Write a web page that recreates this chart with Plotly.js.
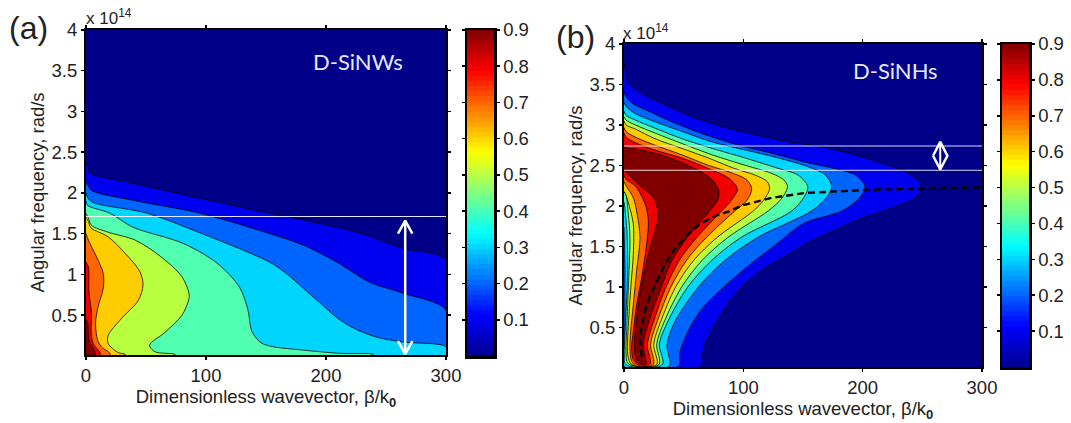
<!DOCTYPE html>
<html><head><meta charset="utf-8">
<script src="https://cdn.plot.ly/plotly-3.0.1.min.js"></script>
<style>html,body{margin:0;padding:0;background:#fff}#c{width:1071px;height:423px}</style>
</head><body><div id="c"></div>
<script>
const bandColors = ['#0000f0','#0064ff','#00d5ff','#50ffb0','#b8ff40','#ffcc00','#ff6600','#f00000','#800000'];
const navy = '#000088';

// Panel (a) D-SiNWs: contour outlines, levels 0.1 ... 0.9 (beta/k0, omega in 1e14 rad/s)
const nwBeta = [
 [0,1,3.3,39,100,153,174,228,264,300],
 [0,1.1,4.7,39,95,153,181,209,237,264,300],
 [0,1.1,4.7,51,95,153,167,181,195,209,223,242,264,300],
 [0,1.1,20,39,81,109,128,135,138,145,153,181,212,239],
 [0,2,4.7,18,41,63,80,86,85,80,66,53,57.5,74],
 [0,2,4.2,18.5,32.5,45,47.5,43.6,29.7,18.5,18.5,26.8,32.5],
 [0,2,8.9,14.4,14.4,10,8,9.7,13,20],
 [0,2,2.5,4.7,4.2,6,11.7],
 [0,1.4,2.5,7.5]
];
const nwFreq = [
 [2.38,2.34,2.25,2.12,1.92,1.75,1.69,1.51,1.32,1.17],
 [2.15,2.11,2.03,1.91,1.75,1.50,1.36,1.15,0.90,0.77,0.56],
 [2.0,1.95,1.89,1.75,1.51,1.15,1.01,0.83,0.65,0.47,0.34,0.23,0.17,0.11],
 [1.9,1.85,1.75,1.58,1.38,1.14,0.84,0.56,0.31,0.17,0.12,0.07,0.03,0.02],
 [1.75,1.69,1.60,1.52,1.42,1.21,0.97,0.75,0.66,0.50,0.29,0.13,0.05,0.02],
 [1.7,1.65,1.57,1.46,1.26,1.03,0.87,0.68,0.46,0.25,0.15,0.04,0.02],
 [1.5,1.42,1.21,1.01,0.83,0.60,0.40,0.19,0.11,0.03],
 [1.15,1.09,0.77,0.52,0.31,0.15,0.04],
 [0.45,0.40,0.19,0.05]
];

// Panel (b) D-SiNHs: contour outlines, levels 0.1 ... 0.9
const nhBeta = [
 [0,1.7,3.9,15.1,31.8,54.2,82.1,110,138,166,194,222,238.5,247,249,245,218,198,175,156,133,111,91,78,69,65,64,0],
 [0,1.7,6.7,20.7,43,68,96,124,152,177,194,202,198,183,150,128,106,83,66,55,47,45.5,0],
 [0,1.7,9.5,26,48.6,74,102,130,155,169,174,170,157.5,112,84,62,43,36,37.7,0,0.8,0.8,0.8,0],
 [0,1.7,9.5,26,48.6,74,102,130,146,154,151,140.8,98,73,53,37,29.6,32.1,1.4,0.3,0.8,1.7,2.8,3.1,2.2,0.3,0],
 [0,1.7,9.5,26,48.6,74,102,124,134,137,132,121,87,65,48,34,27.4,29.3,3.6,1.7,2.2,3.1,4.2,5,3.6,1.4,0],
 [0,1.7,9.5,26,48.6,71,93,110,120,122,117,108.6,78,58,43,31,24.9,27.4,6.4,3.1,3.1,4.2,5.9,7.8,7.8,5.3,1.7,0],
 [0,1.7,9.5,26,48.6,71,90,103,107,103,93,69,52,39,28,22.3,24.6,10.6,6.4,5,5.6,7.8,10.6,13.4,11,7.8,1.7,0],
 [0,1.7,9.5,26,48.6,71,88,95,90,82,61,46,35,25,19.6,21.8,13.4,7.8,6.4,7.8,10.6,14.8,19,20.4,17.6,9.2,2.2,0],
 [0,1.7,15,35,54,71,79,79,72,53,40,31,21,16.2,18.2,12,9.8,8.7,10.6,14.8,20.4,26,28.8,24.6,15,1.7,0]
];
const nhFreq = [
 [3.75,3.64,3.52,3.39,3.27,3.12,2.98,2.88,2.79,2.73,2.63,2.50,2.40,2.30,2.22,2.11,1.94,1.84,1.69,1.56,1.36,1.16,0.87,0.58,0.33,0.12,0.02,0.02],
 [3.4,3.35,3.27,3.17,3.02,2.88,2.75,2.65,2.54,2.46,2.38,2.24,2.11,1.94,1.78,1.53,1.28,0.99,0.74,0.49,0.20,0.02,0.02],
 [3.28,3.23,3.14,3.04,2.92,2.79,2.69,2.59,2.48,2.38,2.24,2.11,1.94,1.61,1.32,0.99,0.58,0.29,0.02,0.02,0.37,0.87,1.28,1.74],
 [3.17,3.12,3.06,2.96,2.83,2.71,2.59,2.46,2.38,2.24,2.11,1.94,1.61,1.32,0.99,0.58,0.29,0.04,0.04,0.16,0.41,0.70,1.03,1.40,1.74,2.03,2.05],
 [3.1,3.06,3.0,2.90,2.77,2.63,2.50,2.40,2.32,2.24,2.09,1.94,1.61,1.32,0.99,0.58,0.29,0.04,0.05,0.20,0.45,0.78,1.20,1.61,1.90,2.15,2.17],
 [3.05,3.0,2.95,2.83,2.71,2.59,2.46,2.38,2.30,2.21,2.07,1.94,1.61,1.32,0.99,0.58,0.29,0.04,0.04,0.16,0.37,0.66,1.03,1.40,1.78,1.95,2.13,2.18],
 [2.97,2.92,2.85,2.75,2.63,2.50,2.41,2.32,2.21,2.07,1.94,1.61,1.32,0.99,0.58,0.29,0.04,0.02,0.08,0.25,0.45,0.78,1.20,1.61,1.90,2.10,2.25,2.3],
 [2.9,2.85,2.78,2.69,2.59,2.46,2.34,2.21,2.07,1.94,1.61,1.32,0.99,0.58,0.29,0.04,0.02,0.10,0.25,0.45,0.78,1.11,1.53,1.82,2.03,2.25,2.32,2.38],
 [2.74,2.72,2.69,2.61,2.50,2.36,2.21,2.09,1.94,1.61,1.32,0.99,0.58,0.29,0.04,0.06,0.12,0.29,0.62,1.03,1.40,1.69,1.90,2.11,2.23,2.42,2.45]
];
const dashBeta = [14.8,13.4,14.8,17.6,21.8,27.4,34.4,42.7,51,62.3,73.5,87.4,100,124,152,180,208,247,276,299];
const dashFreq = [0.14,0.33,0.49,0.70,0.89,1.07,1.28,1.47,1.61,1.76,1.86,1.93,2.01,2.10,2.16,2.18,2.20,2.21,2.22,2.23];

const rangeBeta = [0,300];
const rangeFreq = [0.01,4];
const markerA = 1.71;
const markersB = [2.74,2.44];

const arrowABeta = [266,266], arrowAFreq = [0.02,1.66];
const arrowAHeadTopB = [260,266,272], arrowAHeadTopF = [1.50,1.66,1.50];
const arrowAHeadBotB = [260,266,272], arrowAHeadBotF = [0.18,0.02,0.18];
const arrowBBeta = [265,265], arrowBFreq = [2.45,2.79];
const arrowBDiaB = [259,265,271,265,259], arrowBDiaF = [2.62,2.79,2.62,2.45,2.62];

const xTicks = [0,100,200,300];
const yTicks = [0.5,1,1.5,2,2.5,3,3.5,4];
const yTickText = ['0.5','1','1.5','2','2.5','3','3.5','4'];
const cbTicks = [0.1,0.2,0.3,0.4,0.5,0.6,0.7,0.8,0.9];
const cbSteps = [0.007,0.021,0.035,0.049,0.063,0.077,0.091,0.105,0.120,0.134,0.148,0.162,0.176,0.190,0.204,0.218,0.232,0.246,0.260,0.274,0.288,0.302,0.316,0.330,0.345,0.359,0.373,0.387,0.401,0.415,0.429,0.443,0.457,0.471,0.485,0.499,0.513,0.527,0.541,0.555,0.570,0.584,0.598,0.612,0.626,0.640,0.654,0.668,0.682,0.696,0.710,0.724,0.738,0.752,0.766,0.780,0.795,0.809,0.823,0.837,0.851,0.865,0.879,0.893];
const jet = [[0,'#00008f'],[0.125,'#0000ff'],[0.375,'#00ffff'],[0.625,'#ffff00'],[0.875,'#ff0000'],[1,'#800000']];

const W=1071,H=423;
const fx=(a,b)=>[a/W,b/W], fy=(t,b)=>[1-b/H,1-t/H];
const traces=[];
const contourLine={color:'rgba(0,0,0,0.85)',width:0.9,shape:'spline',smoothing:0.9};

function band(xs,ys,i,xa,ya){
  traces.push({type:'scatter',mode:'lines',x:xs,y:ys,xaxis:xa,yaxis:ya,fill:'toself',fillcolor:bandColors[i],line:contourLine,hoverinfo:'skip',showlegend:false});
}
nwBeta.forEach((b,i)=>{
  const last=b[b.length-1];
  band(b.concat([last,0]),nwFreq[i].concat([rangeFreq[0],rangeFreq[0]]),i,'x','y');
});
nhBeta.forEach((b,i)=>band(b,nhFreq[i],i,'x2','y2'));

function plain(xs,ys,xa,ya,color,width,dash){
  traces.push({type:'scatter',mode:'lines',x:xs,y:ys,xaxis:xa,yaxis:ya,line:{color:color,width:width,dash:dash||'solid'},hoverinfo:'skip',showlegend:false});
}
plain(rangeBeta,[markerA,markerA],'x','y','rgba(255,255,255,0.9)',1);
plain(arrowABeta,arrowAFreq,'x','y','#fff',2.5);
plain(arrowAHeadTopB,arrowAHeadTopF,'x','y','#fff',2.5);
plain(arrowAHeadBotB,arrowAHeadBotF,'x','y','#fff',2.5);

markersB.forEach(m=>plain(rangeBeta,[m,m],'x2','y2','rgba(255,255,255,0.85)',1));
plain(dashBeta,dashFreq,'x2','y2','#000',2.4,'7px,4px');
plain(arrowBBeta,arrowBFreq,'x2','y2','#fff',2);
plain(arrowBDiaB,arrowBDiaF,'x2','y2','#fff',2.5);

[['x3','y3'],['x4','y4']].forEach(a=>{
  traces.push({type:'heatmap',x:[0],y:cbSteps,z:cbSteps.map(v=>[v]),xaxis:a[0],yaxis:a[1],colorscale:jet,zmin:0,zmax:0.9,showscale:false,hoverinfo:'skip'});
});

const tfont={family:'"Liberation Sans",Arial,sans-serif',size:18.5,color:'#222'};
const tifont={family:'"Liberation Sans",Arial,sans-serif',size:18.5,color:'#222'};
function xax(dom,anchor,text){return {domain:dom,anchor:anchor,range:rangeBeta,tickmode:'array',tickvals:xTicks,ticktext:xTicks.map(String),ticks:'outside',ticklen:3,tickwidth:1.5,tickcolor:'#000',mirror:'ticks',showline:true,linewidth:2,linecolor:'#000',showgrid:false,zeroline:false,tickfont:tfont,title:{text:text,font:tifont,standoff:0}};}
function yax(dom,anchor,text){return {domain:dom,anchor:anchor,range:rangeFreq,tickmode:'array',tickvals:yTicks,ticktext:yTickText,ticks:'outside',ticklen:3,tickwidth:1.5,tickcolor:'#000',mirror:'ticks',showline:true,linewidth:2,linecolor:'#000',showgrid:false,zeroline:false,tickfont:tfont,title:{text:text,font:tifont,standoff:2}};}
function cbx(dom,anchor){return {domain:dom,anchor:anchor,range:[-0.5,0.5],showticklabels:false,ticks:'',mirror:true,showline:true,linewidth:2.5,linecolor:'#000',showgrid:false,zeroline:false};}
function cby(dom,anchor){return {domain:dom,anchor:anchor,side:'right',range:[0,0.9],tickmode:'array',tickvals:cbTicks,ticktext:cbTicks.map(v=>v.toFixed(1)),ticks:'outside',ticklen:3,tickwidth:1.5,tickcolor:'#000',mirror:'ticks',showline:true,linewidth:2.5,linecolor:'#000',showgrid:false,zeroline:false,tickfont:tfont};}

const xt='Dimensionless wavevector, β/k<sub><b>0</b></sub>';
const yt='Angular frequency, rad/s';
function note(px,py,text,size,color,family,anchor){
  return {xref:'paper',yref:'paper',x:px/W,y:1-py/H,text:text,showarrow:false,xanchor:anchor||'left',yanchor:'middle',font:{family:family||'"Liberation Sans",Arial,sans-serif',size:size,color:color||'#222'}};
}
const layout={
  width:W,height:H,margin:{l:0,r:0,t:0,b:0,pad:0},paper_bgcolor:'#fff',plot_bgcolor:navy,showlegend:false,
  xaxis:xax(fx(86,446),'y',xt),
  yaxis:yax(fy(30,355),'x',yt),
  xaxis2:xax(fx(624,982),'y2',xt),
  yaxis2:yax(fy(44,367),'x2',yt),
  xaxis3:cbx(fx(467,494),'y3'),
  yaxis3:cby(fy(30,356),'x3'),
  xaxis4:cbx(fx(1002,1029),'y4'),
  yaxis4:cby(fy(44,367),'x4'),
  annotations:[
    note(7,28,'(a)',32),
    note(554,37,'(b)',32),
    note(84,17,'x 10<sup>14</sup>',17),
    note(621,32,'x 10<sup>14</sup>',17),
    note(358,62,'D-SiNWs',22,'#e8e8ff','Lato,sans-serif','center'),
    note(895,70,'D-SiNHs',22,'#e8e8ff','Lato,sans-serif','center')
  ]
};
Plotly.newPlot('c',traces,layout,{displayModeBar:false,staticPlot:true});
</script></body></html>
